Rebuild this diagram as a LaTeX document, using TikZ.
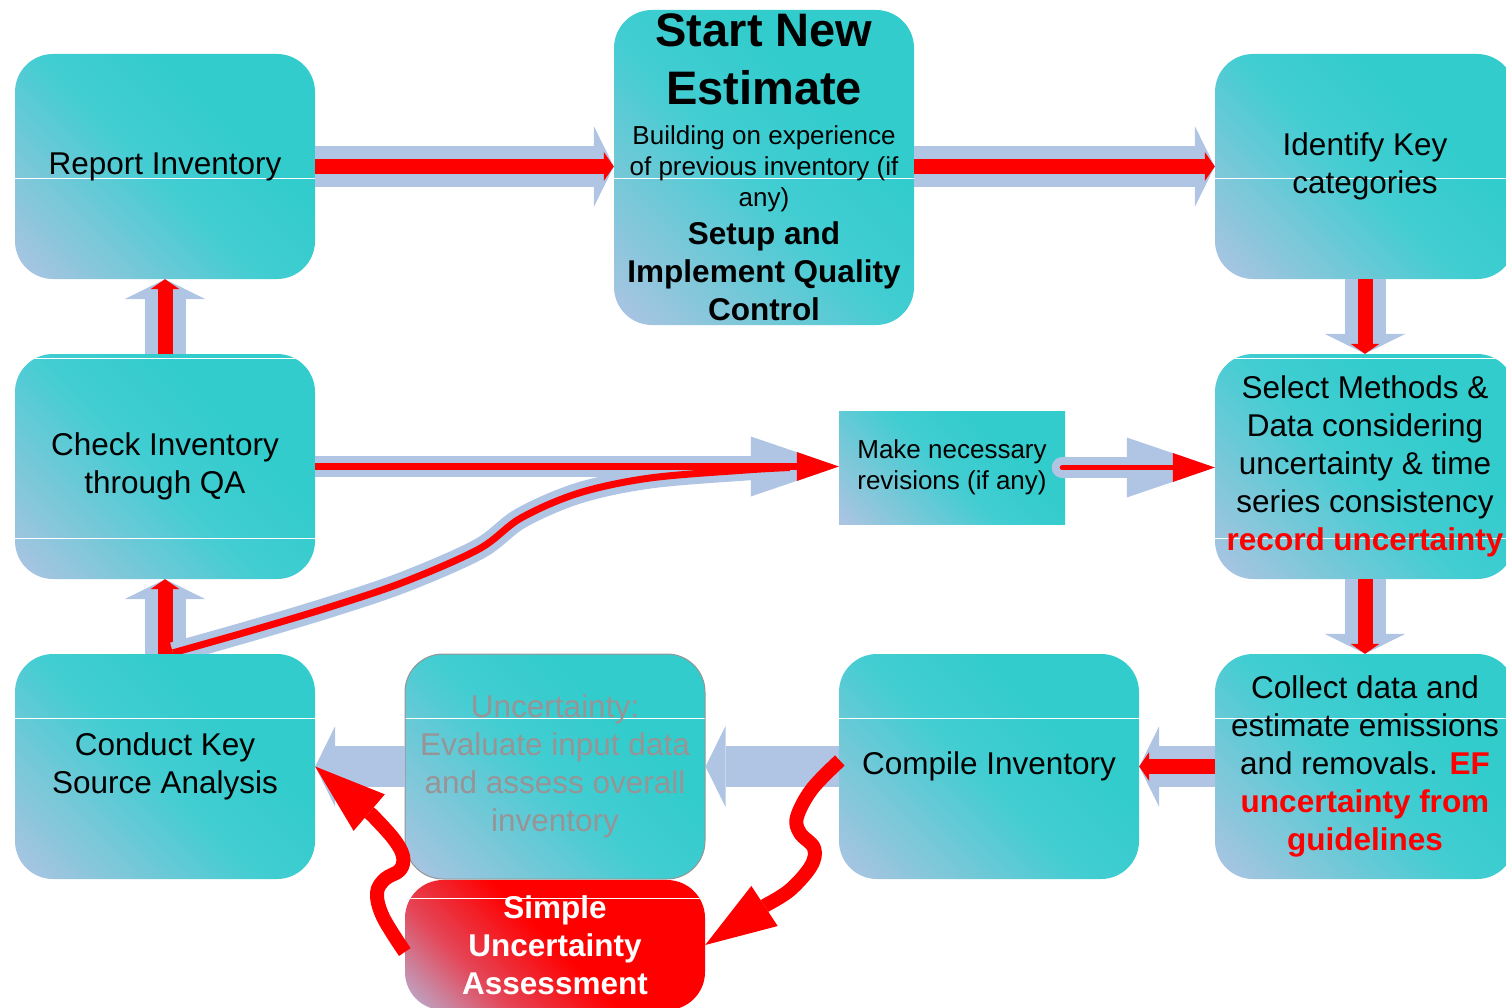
\documentclass[tikz,border=0pt]{standalone}
\usepackage{fontspec}
\setmainfont{Liberation Sans}
\usetikzlibrary{arrows.meta,calc}

% palette
\definecolor{boxteal}{RGB}{51,204,204}
\definecolor{boxblue}{RGB}{170,196,226}
\definecolor{boxmid}{RGB}{118,200,216}
\definecolor{boxnear}{RGB}{66,205,210}
\definecolor{flowblue}{RGB}{176,197,228}
\definecolor{flowred}{RGB}{255,0,0}
\definecolor{fadetext}{RGB}{152,148,150}
\definecolor{fadeline}{RGB}{150,150,150}
\definecolor{ssared}{RGB}{255,0,0}
\definecolor{ssamid}{RGB}{228,70,88}
\definecolor{ssalow}{RGB}{186,172,204}

% diagonal fills of the process boxes
\pgfdeclareverticalshading{tealsheen}{100bp}{color(0bp)=(boxblue); color(16bp)=(boxblue); color(32bp)=(boxmid); color(48bp)=(boxnear); color(64bp)=(boxteal); color(100bp)=(boxteal)}
\pgfdeclareverticalshading{redsheen}{100bp}{color(0bp)=(ssalow); color(16bp)=(ssalow); color(32bp)=(ssamid); color(50bp)=(ssared); color(100bp)=(ssared)}

\begin{document}
\begin{tikzpicture}[x=1pt, y=-1pt,
  stage/.style={rectangle, rounded corners=38pt, shade, shading=tealsheen, shading angle=-45,
    minimum width=300pt, minimum height=225pt, inner sep=0pt, align=center, text=black,
    font=\fontsize{31.5}{38}\selectfont},
  sheen/.style={path picture={\foreach \s in {#1}{\draw[white, line width=0.9pt]
    ([yshift=-\s pt]path picture bounding box.north west) --
    ([yshift=-\s pt]path picture bounding box.north east);}}},
  flowband/.style={draw=flowblue, line width=41pt, -{Triangle[length=20pt,width=81pt,line width=0pt]}},
  flowcore/.style={draw=flowred, line width=15pt, -{Triangle[length=10pt,width=29pt,line width=0pt]}},
  slimband/.style={draw=flowblue, line width=21pt, -{Triangle[length=88pt,width=60pt,line width=0pt]}},
  slimcore/.style={draw=flowred, line width=7pt, -{Triangle[length=42pt,width=29pt,line width=0pt]}},
  swoop/.style={draw=flowred, line width=14pt, line join=round, -{Triangle[length=71pt,width=48pt,line width=0pt]}},
  caption/.style={anchor=north, inner sep=0pt, align=center}
]
\useasboundingbox (0,0) rectangle (1506,1008);

% ---- process boxes ----
\node[stage, sheen={124}] (rep) at (165,166.5) {Report Inventory};
\node[stage, minimum height=315pt, sheen={168}] (start) at (764,167.5) {};
\node[caption, font=\fontsize{47}{58}\selectfont\bfseries] (title) at (764,13) {Start New\\Estimate};
\node[caption, font=\fontsize{26}{31}\selectfont] (prior) at (764,125) {Building on experience\\of previous inventory (if\\any)};
\node[caption, font=\fontsize{31.5}{38}\selectfont\bfseries] (qc) at (764,221) {Setup and\\Implement Quality\\Control};
\node[stage, sheen={124}] (idk) at (1365,166.5) {Identify Key\\categories};
\node[stage, sheen={4,184}] (chk) at (165,466.5) {Check Inventory\\through QA};
\node[stage, rounded corners=0pt, minimum width=226pt, minimum height=113pt,
      font=\fontsize{26}{31}\selectfont] (rev) at (952,467.5) {Make necessary\\revisions (if any)};
\node[stage, sheen={4,184}] (sel) at (1365,466.5) {Select Methods \&\\Data considering\\uncertainty \& time\\series consistency\\{\bfseries\color{flowred}record uncertainty}};
\node[stage, sheen={64}] (cks) at (165,766.5) {Conduct Key\\Source Analysis};
\node[stage, draw=fadeline, line width=1pt, text=fadetext, sheen={64}] (unc) at (555,766.5) {Uncertainty:\\Evaluate input data\\and assess overall\\inventory};
\node[stage, sheen={64}] (cmp) at (989,766.5) {Compile Inventory};
\node[stage, sheen={64}] (col) at (1365,766.5) {Collect data and\\estimate emissions\\and removals. {\bfseries\color{flowred}EF}\\{\bfseries\color{flowred}uncertainty from}\\{\bfseries\color{flowred}guidelines}};
\node[stage, shading=redsheen, minimum height=130pt, text=white,
      font=\fontsize{31.5}{38}\selectfont\bfseries, sheen={18}] (sua) at (555,945) {Simple\\Uncertainty\\Assessment};

% ---- main cycle: wide blue band with a red core ----
\draw[flowband] (rep.east) -- (rep.east -| start.west);
\draw[flowcore] (rep.east) -- (rep.east -| start.west);
\draw[flowband] (start.east |- idk.west) -- (idk.west);
\draw[flowcore] (start.east |- idk.west) -- (idk.west);
\draw[flowband] (idk.south) -- (sel.north);
\draw[flowcore] (idk.south) -- (sel.north);
\draw[flowband] (sel.south) -- (col.north);
\draw[flowcore] (sel.south) -- (col.north);
\draw[flowband] (col.west) -- (cmp.east);
\draw[flowcore] (col.west) -- (cmp.east);
\draw[flowband] (cmp.west) -- (unc.east);
\draw[flowband] (unc.west) -- (cks.east);
\draw[flowband] (cks.north) -- (chk.south);
\draw[flowcore] (cks.north) -- (chk.south);
\draw[flowband] (chk.north) -- (rep.south);
\draw[flowcore] (chk.north) -- (rep.south);

% ---- revision loop ----
\coordinate (kstart) at ($(cks.north)+(8,-1)$);
\coordinate (kend) at ($(rev.west)+(-49,0)$);
\draw[slimband] (chk.east) -- (chk.east -| rev.west);
\begin{scope}
  \clip (0,0) rectangle ($(cks.north)+(1341,0)$);
  \draw[flowblue, line width=21pt] plot[smooth, tension=0.55] coordinates
    {(kstart) (250,631) (330,607) (404,582) (479,549) (521,518) (579,493) (650,478) (746,470) (kend)};
\end{scope}
\draw[slimcore] (chk.east) -- (chk.east -| rev.west);
\begin{scope}
  \clip (0,0) rectangle ($(cks.north)+(1341,0)$);
  \draw[flowred, line width=7pt] plot[smooth, tension=0.55] coordinates
    {(kstart) (250,631) (330,607) (404,582) (479,549) (521,518) (579,493) (650,478) (746,470) (kend)};
\end{scope}
\draw[slimband, line cap=round] ([xshift=-3pt]rev.east) -- (rev.east -| sel.west);
\draw[slimcore, line width=5pt, line cap=round] ([xshift=-3pt]rev.east) -- (rev.east -| sel.west);

% ---- simple uncertainty branch ----
\coordinate (mstart) at ($(cmp.west)+(1,-6)$);
\coordinate (nstart) at ($(sua.west)+(0,7)$);
\draw[swoop] plot[smooth, tension=0.6] coordinates
  {(mstart) (812,789) (797,817) (800,833) (814,848) (811,866) (790,890) (766,905)} -- (sua.east);
\draw[swoop] plot[smooth, tension=0.6] coordinates
  {(nstart) (383,917) (377,893) (385,879) (400,870) (403,856) (393,838) (372,815)} -- (cks.east);
\end{tikzpicture}
\end{document}
